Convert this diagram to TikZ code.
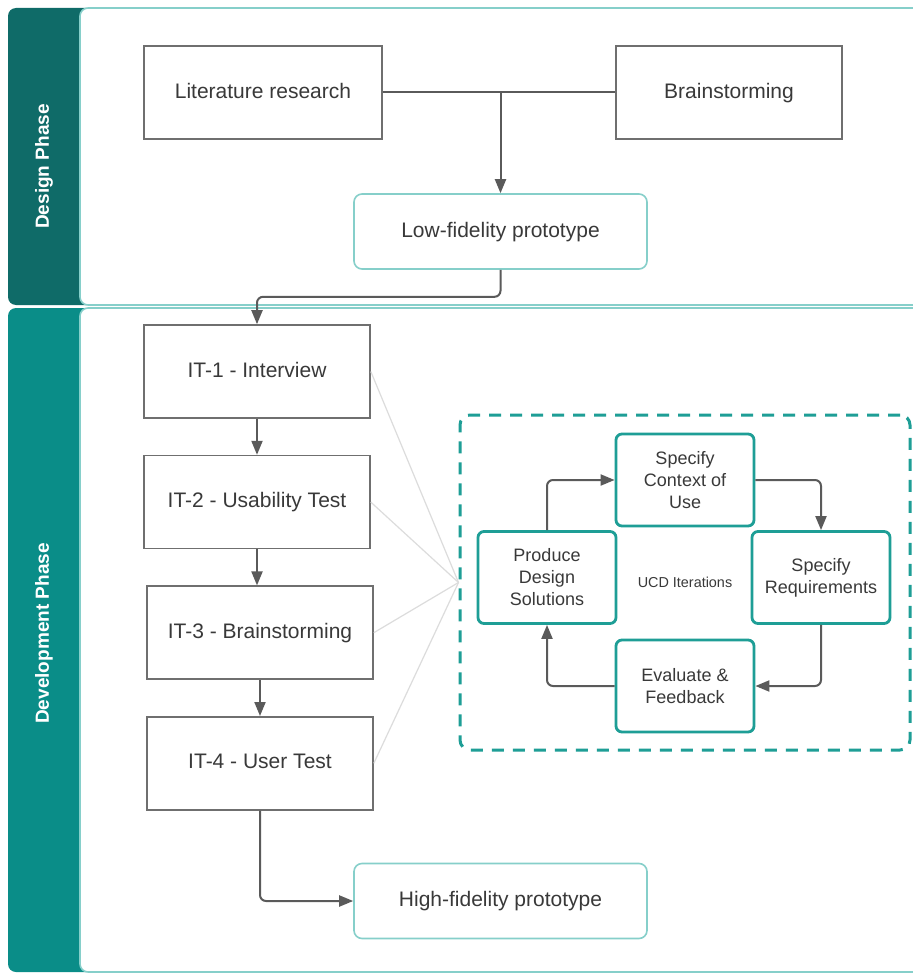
\documentclass[tikz,border=0pt]{standalone}
\usepackage{fontspec}
\setmainfont{Liberation Sans}
\usetikzlibrary{positioning,arrows.meta,calc}

\definecolor{darkteal}{HTML}{0F6B68}
\definecolor{midteal}{HTML}{0A8D88}
\definecolor{laneline}{HTML}{86CFCA}
\definecolor{boxgray}{HTML}{6F6F6F}
\definecolor{cycteal}{HTML}{1E9E96}
\definecolor{txtgray}{HTML}{393939}
\definecolor{arrowgray}{HTML}{5A5A5A}
\definecolor{fangray}{HTML}{DCDCDC}

\tikzstyle{every node}+=[text=txtgray,inner sep=1pt]
\tikzstyle{lanelabel}=[rotate=90,text=white,font=\fontsize{9.5}{11}\selectfont\bfseries]
\tikzstyle{stepbox}=[draw=boxgray,line width=0.8pt,minimum width=113pt,minimum height=46.5pt,text height=7.5pt,text depth=2pt,font=\fontsize{10.5}{12.6}\selectfont]
\tikzstyle{protobox}=[draw=laneline,line width=0.8pt,rounded corners=4pt,minimum width=146.5pt,minimum height=37.5pt,text height=7.5pt,text depth=2pt,font=\fontsize{10.5}{12.6}\selectfont]
\tikzstyle{cycbox}=[draw=cycteal,line width=1.4pt,rounded corners=3pt,minimum width=69pt,minimum height=46pt,align=center,font=\fontsize{9}{11}\selectfont]
\tikzstyle{flow}=[draw=arrowgray,line width=1pt,rounded corners=3pt,-{Triangle[length=7pt,width=5.5pt]}]
\tikzstyle{fanline}=[draw=fangray,line width=0.6pt]

\newcommand{\drawflows}[2][\empty]{
	\foreach \a/\b in {#2}{
		\draw[flow,#1] (\a) -- (\b);
	}
}

\begin{document}
\begin{tikzpicture}[x=0.5pt,y=-0.5pt]
\useasboundingbox (0,0) rectangle (913,974);

% lanes
\fill[darkteal,rounded corners=4pt] (8,8) rectangle (95,305);
\draw[laneline,fill=white,rounded corners=4pt,line width=0.8pt] (80,8) rectangle (940,305);
\fill[midteal,rounded corners=4pt] (8,308) rectangle (95,972);
\draw[laneline,fill=white,rounded corners=4pt,line width=0.8pt] (80,308) rectangle (940,972);
\node[lanelabel] (design) at (44,166.5) {Design Phase};
\node[lanelabel] (develop) at (44,633.5) {Development Phase};

% design phase
\node[stepbox,minimum width=119pt] (lit) at (263,92.5) {Literature research};
\node[stepbox,minimum width=113pt] (brain) at (729,92.5) {Brainstorming};
\node[protobox] (lowfi) at (500.5,231.5) {Low-fidelity prototype};

\draw[draw=arrowgray,line width=1pt] (lit.east) -- (brain.west);
\draw[flow] (lit.east -| lowfi.north) -- (lowfi.north);

% development phase
\node[stepbox] (it1) at (257,371.5) {IT-1 - Interview};
\node[stepbox,below=18pt of it1] (it2) {IT-2 - Usability Test};
\node[stepbox,below=18pt of it2,xshift=1.5pt] (it3) {IT-3 - Brainstorming};
\node[stepbox,below=18pt of it3] (it4) {IT-4 - User Test};
\node[protobox] (highfi) at (500.5,901) {High-fidelity prototype};

\draw[flow] (lowfi.south) -- ($(lowfi.south)+(0,27)$) -| (it1.north);
\drawflows{it1.south/it2.north,it2.south/it3.north -| it2.south,it3.south/it4.north}
\draw[flow] (it4.south) |- (highfi.west);

% UCD cycle
\node[draw=cycteal,line width=1.5pt,dash pattern=on 6pt off 4.5pt,rounded corners=5pt,
	minimum width=225pt,minimum height=167.5pt,font=\fontsize{7.2}{9}\selectfont] (ucd) at (685,582.5) {UCD Iterations};
\foreach \a in {it1,it2,it3,it4}{
	\draw[fanline] (\a.east) -- (ucd.west);
}

\node[cycbox] (context) at (685,480) {Specify\\Context of\\Use};
\node[cycbox] (req) at (821,577.5) {Specify\\Requirements};
\node[cycbox] (eval) at (685,686) {Evaluate \&\\Feedback};
\node[cycbox] (produce) at (547,577.5) {Produce\\Design\\Solutions};

\draw[flow] (produce.north) |- (context.west);
\draw[flow] (context.east) -| (req.north);
\draw[flow] (req.south) |- (eval.east);
\draw[flow] (eval.west) -| (produce.south);

\end{tikzpicture}
\end{document}
